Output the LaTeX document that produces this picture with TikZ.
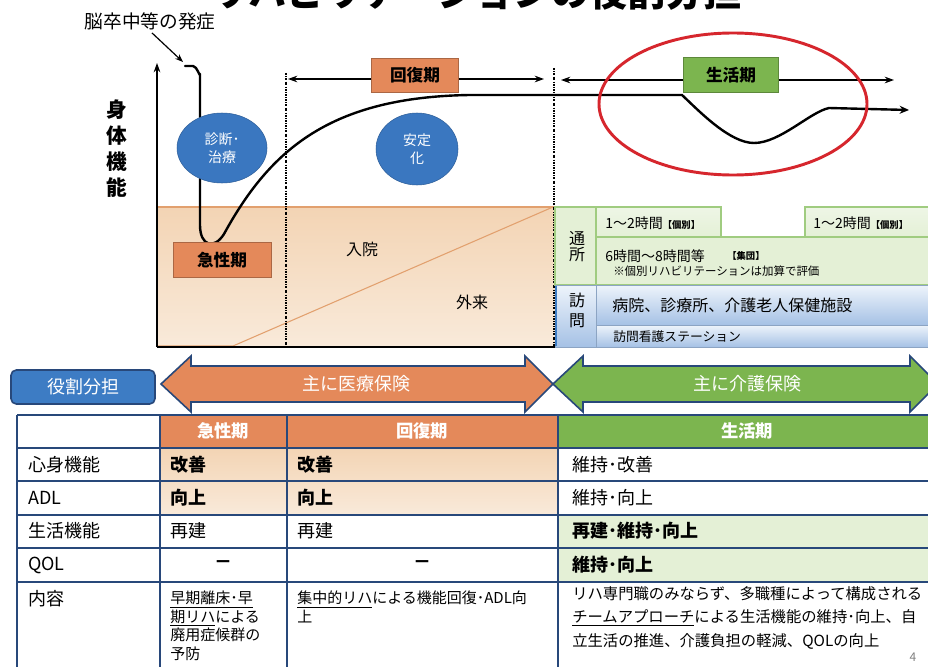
\documentclass[tikz,border=0pt]{standalone}
\usepackage{fontspec}
\setmainfont{Noto Sans CJK JP}
\usetikzlibrary{shapes.geometric, arrows.meta, positioning, calc}
\definecolor{orangebox}{RGB}{228,137,90}
\definecolor{tanlight}{RGB}{249,234,218}
\definecolor{tandark}{RGB}{243,212,180}
\definecolor{ellblue}{RGB}{58,119,192}
\definecolor{roleblue}{RGB}{61,124,196}
\definecolor{navy}{RGB}{40,72,122}
\definecolor{greenbox}{RGB}{124,181,79}
\definecolor{greenlight}{RGB}{228,240,214}
\definecolor{greenpale}{RGB}{238,246,230}
\definecolor{greenedge}{RGB}{160,204,128}
\definecolor{bluelight}{RGB}{238,244,251}
\definecolor{bluemid}{RGB}{165,193,229}
\definecolor{redring}{RGB}{214,38,45}
\definecolor{tanline}{RGB}{226,160,110}
\newcommand{\fsz}[2]{\fontsize{#1}{#2}\selectfont}

\begin{document}
\begin{tikzpicture}[
    x=0.75pt, y=-0.75pt,
    % styles
    phase_box/.style={draw=#1!75!black, fill=#1, inner sep=0pt, font=\fsz{12.5pt}{14pt}\bfseries},
    bubble/.style={ellipse, draw=ellblue!80!black, fill=ellblue, text=white, align=center, inner sep=0pt, font=\fsz{10.5pt}{13.5pt}},
    phase_arrow/.style={-{Stealth[length=7pt, width=5pt]}, line width=0.9pt},
    phase_line/.style={line width=0.8pt, dash pattern=on 1.5pt off 1pt on 0.4pt off 1pt},
    curve/.style={line width=1.8pt, -{Stealth[length=7pt, width=6pt]}, line join=round, line cap=round},
    care_cell/.style={draw=greenedge, line width=0.8pt, fill=greenlight},
    top_cell/.style={draw=greenedge, line width=0.8pt, top color=greenpale, bottom color=greenlight},
    visit_cell/.style={draw=bluemid!85!black, line width=0.6pt, top color=bluelight, bottom color=bluemid},
    big_arrow/.style={draw=navy, line width=1.2pt, line join=miter},
    grid_line/.style={draw=navy, line width=1.3pt},
    cell_txt/.style={anchor=west, inner sep=0pt, font=\fsz{13.5pt}{16pt}},
    head_txt/.style={inner sep=0pt, text=white, font=\fsz{13pt}{16pt}\bfseries},
    note_txt/.style={anchor=north west, inner sep=0pt, align=left}
]
    \useasboundingbox (0,0) rectangle (928,667);
    \clip (0,0) rectangle (928,667);
    \fill[white] (0,0) rectangle (928,667);

    % --- 1. TITLE (cut at the top) ---
    \node[anchor=base, inner sep=0pt, font=\fsz{28.5pt}{30pt}\bfseries] (title) at (476,7) {リハビリテーションの役割分担};

    % --- 2. GRAPH AREA ---
    \shade[top color=tandark, bottom color=tanlight] (157,207) rectangle (555,347);
    \draw[tanline, line width=0.8pt] (157,207) -- (555,207);
    \draw[tanline, line width=0.8pt] (157,346) -- (233,346) -- (553,207);

    % axes
    \draw[line width=1pt, -{Stealth[length=7pt, width=5pt]}] (157,347) -- (157,63);
    \draw[line width=1pt] (157,347) -- (928,347);
    \node[align=center, inner sep=0pt, font=\fsz{15.5pt}{19.5pt}\bfseries] (y_label) at (117,149) {身\\体\\機\\能};

    % phase separators
    \draw[phase_line] (286,73) -- (286,347);
    \draw[phase_line] (554,68) -- (554,347);

    % onset
    \node[inner sep=0pt, font=\fsz{14pt}{16pt}] (onset_label) at (150,21) {脳卒中等の発症};
    \coordinate (onset_pt) at (185,66);
    \coordinate (onset_tip) at (183,62);
    \draw[line width=0.9pt, -{Stealth[length=6pt, width=4.5pt]}] ($(onset_label.south)+(2,3)$) -- (onset_tip);

    % function curve
    \draw[curve] (onset_pt) -- (193,66) to[out=0, in=-90] (200,74) -- (200,225)
        .. controls (200,246) and (214,250) .. (224,234)
        .. controls (270,150) and (330,97) .. (470,95) -- (682,95)
        .. controls (700,112) and (730,143) .. (754,143)
        .. controls (780,143) and (810,112) .. (829,108) -- (909,110);

    % bubbles
    \node[bubble, minimum width=67.5pt, minimum height=52.5pt] (diag_ell) at (222,148) {診断･\\治療};
    \node[bubble, minimum width=61.5pt, minimum height=54pt] (stable_ell) at (417,149) {安定\\化};

    % phase labels
    \node[phase_box=orangebox, minimum width=73.5pt, minimum height=26pt] (acute_box) at (222,260) {急性期};
    \node[phase_box=orangebox, minimum width=65pt, minimum height=25.5pt] (recov_box) at (415,75) {回復期};
    \node[phase_box=greenbox, minimum width=71pt, minimum height=26pt] (life_box) at (731,75) {生活期};

    \coordinate (recov_l) at (288,79);
    \coordinate (recov_r) at (544,79);
    \draw[phase_arrow] (recov_box.west |- recov_l) -- (recov_l);
    \draw[phase_arrow] (recov_box.east |- recov_r) -- (recov_r);
    \coordinate (life_l) at (561,80);
    \coordinate (life_r) at (894,80);
    \draw[phase_arrow] (life_box.west |- life_l) -- (life_l);
    \draw[phase_arrow] (life_box.east |- life_r) -- (life_r);

    \node[ellipse, draw=redring, line width=2.2pt, minimum width=201pt, minimum height=106.5pt] (life_ring) at (733,104) {};

    % inpatient / outpatient
    \node[inner sep=0pt, font=\fsz{12pt}{14pt}] (inpat) at (362,249) {入院};
    \node[inner sep=0pt, font=\fsz{12pt}{14pt}] (outpat) at (472,302) {外来};

    % --- 3. CARE SERVICES (right) ---
    \draw[care_cell] (555,207) rectangle (596,285);
    \draw[top_cell] (596,207) rectangle (721,237);
    \draw[top_cell] (805,207) rectangle (935,237);
    \draw[care_cell] (596,237) rectangle (935,285);
    \draw[visit_cell] (555,285) rectangle (596,347);
    \draw[visit_cell] (596,285) rectangle (935,325);
    \draw[visit_cell] (596,325) rectangle (935,347);
    \draw[roleblue, line width=1.5pt] (556,286) -- (556,346);

    \node[align=center, inner sep=0pt, font=\fsz{12pt}{12pt}] (day_lbl) at (577,247) {通\\所};
    \node[align=center, inner sep=0pt, font=\fsz{12pt}{15pt}] (visit_lbl) at (577,310) {訪\\問};
    \node[cell_txt, font=\fsz{10.5pt}{12pt}] (indiv_a) at (605,223) {1～2時間{\fsz{7pt}{8pt}\bfseries【個別】}};
    \node[cell_txt, font=\fsz{10.5pt}{12pt}] (indiv_b) at (813,223) {1～2時間{\fsz{7pt}{8pt}\bfseries【個別】}};
    \node[cell_txt, font=\fsz{10.5pt}{12pt}] (group_a) at (605,256) {6時間～8時間等};
    \node[cell_txt, font=\fsz{7pt}{8pt}\bfseries] (group_b) at (727,256) {【集団】};
    \node[cell_txt, font=\fsz{8.6pt}{10pt}] (group_note) at (613,271) {※個別リハビリテーションは加算で評価};
    \node[cell_txt, font=\fsz{12pt}{14pt}] (visit_a) at (612,305) {病院、診療所、介護老人保健施設};
    \node[cell_txt, font=\fsz{9.6pt}{11pt}] (visit_b) at (613,337) {訪問看護ステーション};

    % --- 4. INSURANCE ARROWS ---
    \node[draw=navy, line width=1.2pt, fill=roleblue, rounded corners=4pt, minimum width=108pt, minimum height=25.5pt, text=white, font=\fsz{13.5pt}{16pt}] (role_box) at (83,387) {役割分担};

    \draw[big_arrow, fill=orangebox] (161,384) -- (191,356) -- (191,366) -- (525,366) -- (525,356) -- (553,384)
        -- (525,412) -- (525,402) -- (191,402) -- (191,412) -- cycle;
    \draw[big_arrow, fill=greenbox] (553,384) -- (583,356) -- (583,366) -- (910,366) -- (910,356) -- (938,384)
        -- (910,412) -- (910,402) -- (583,402) -- (583,412) -- cycle;
    \node[head_txt, font=\fsz{13.5pt}{16pt}] (med_lbl) at (356,384) {主に医療保険};
    \node[head_txt, font=\fsz{13.5pt}{16pt}] (care_lbl) at (747,384) {主に介護保険};

    % --- 5. TABLE ---
    \fill[orangebox] (160,415) rectangle (558,448);
    \fill[greenbox] (558,415) rectangle (940,448);
    \shade[top color=tandark, bottom color=tanlight] (160,448) rectangle (558,515);
    \fill[greenlight] (558,515) rectangle (940,582);

    \foreach \y in {415,448,481,515,548,582}
        \draw[grid_line] (17,\y) -- (940,\y);
    \foreach \x in {160,287,558}
        \draw[grid_line] (\x,415) -- (\x,680);
    \draw[navy, line width=2pt] (17,415) -- (17,680);

    % header
    \node[head_txt] (h_acute) at (223,431) {急性期};
    \node[head_txt] (h_recov) at (422,431) {回復期};
    \node[head_txt] (h_life) at (747,431) {生活期};

    % rows
    \node[cell_txt] (r1_lbl) at (28,465) {心身機能};
    \node[cell_txt] (r2_lbl) at (28,498) {ADL};
    \node[cell_txt] (r3_lbl) at (28,531) {生活機能};
    \node[cell_txt] (r4_lbl) at (28,565) {QOL};
    \node[note_txt, font=\fsz{13.5pt}{16pt}] (r5_lbl) at (28,590) {内容};

    \node[cell_txt, font=\fsz{13.5pt}{16pt}\bfseries] (r1_acute) at (170,465) {改善};
    \node[cell_txt, font=\fsz{13.5pt}{16pt}\bfseries] (r1_recov) at (297,465) {改善};
    \node[cell_txt] (r1_life) at (572,465) {維持･改善};
    \node[cell_txt, font=\fsz{13.5pt}{16pt}\bfseries] (r2_acute) at (170,498) {向上};
    \node[cell_txt, font=\fsz{13.5pt}{16pt}\bfseries] (r2_recov) at (297,498) {向上};
    \node[cell_txt] (r2_life) at (572,498) {維持･向上};
    \node[cell_txt] (r3_acute) at (170,531) {再建};
    \node[cell_txt] (r3_recov) at (297,531) {再建};
    \node[cell_txt, font=\fsz{13.5pt}{16pt}\bfseries] (r3_life) at (572,531) {再建･維持･向上};
    \node[inner sep=0pt, font=\fsz{13.5pt}{16pt}\bfseries] (r4_acute) at (223,565) {－};
    \node[inner sep=0pt, font=\fsz{13.5pt}{16pt}\bfseries] (r4_recov) at (422,565) {－};
    \node[cell_txt, font=\fsz{13.5pt}{16pt}\bfseries] (r4_life) at (572,565) {維持･向上};

    \node[note_txt, font=\fsz{11.25pt}{13.9pt}] (r5_acute) at (170,591) {\underline{早期離床･早}\\\underline{期リハ}による\\廃用症候群の\\予防};
    \node[note_txt, font=\fsz{11.25pt}{13.9pt}] (r5_recov) at (297,591) {\underline{集中的リハ}による機能回復･ADL向\\上};
    \node[note_txt, font=\fsz{11.5pt}{17.6pt}] (r5_life) at (572,586) {リハ専門職のみならず、多職種によって構成される\\\underline{チームアプローチ}による生活機能の維持･向上、自\\立生活の推進、介護負担の軽減、QOLの向上};

    \node[inner sep=0pt, text=gray, font=\fsz{9pt}{10pt}] (page_no) at (913,657) {4};
\end{tikzpicture}
\end{document}
